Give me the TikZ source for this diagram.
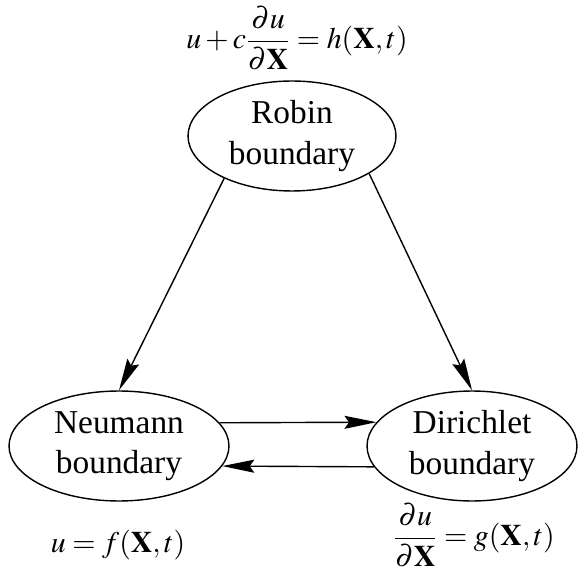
\documentclass[tikz,border=0pt]{standalone}
\usepackage{amsmath}
\usepackage{mathptmx}
\usepackage{fontspec}
\setmainfont{Liberation Serif}
\usetikzlibrary{shapes.geometric,arrows.meta}

\begin{document}
\begin{tikzpicture}[x=0.02cm, y=-0.02cm,
                    >={Stealth[length=6.4mm,width=2.6mm,inset=0.9mm]},
                    every node/.style={font=\fontsize{19}{23}\selectfont},
                    boundary/.style={ellipse, draw, line width=0.8pt,
                                     inner sep=0pt, align=center,
                                     minimum height=2.2cm},
                    law/.style={font=\fontsize{17}{20}\selectfont},
                    link/.style={line width=0.8pt, ->}]

  \useasboundingbox (0,0) rectangle (580,573);

  %% three kinds of boundary
  \node[boundary, minimum width=4.16cm] (robin)     at (292,136) {Robin\\boundary};
  \node[boundary, minimum width=4.40cm] (neumann)   at (119,446) {Neumann\\boundary};
  \node[boundary, minimum width=4.20cm] (dirichlet) at (472,446) {Dirichlet\\boundary};

  %% the conditions
  \node[law] (robinLaw)     at (297,38)  {$u + c\dfrac{\partial u}{\partial\mathbf{X}} = h(\mathbf{X},t)$};
  \node[law] (neumannLaw)   at (118,545) {$u = f(\mathbf{X},t)$};
  \node[law] (dirichletLaw) at (474,535) {$\dfrac{\partial u}{\partial\mathbf{X}} = g(\mathbf{X},t)$};

  %% special cases
  \draw[link] (robin.212) -- (neumann.north);
  \draw[link] (robin.334) -- (dirichlet.north);

  %% between the two
  \draw[link] (neumann.13)    -- (dirichlet.166.5);
  \draw[link] (dirichlet.192.2) -- (neumann.-11.6);

\end{tikzpicture}
\end{document}
